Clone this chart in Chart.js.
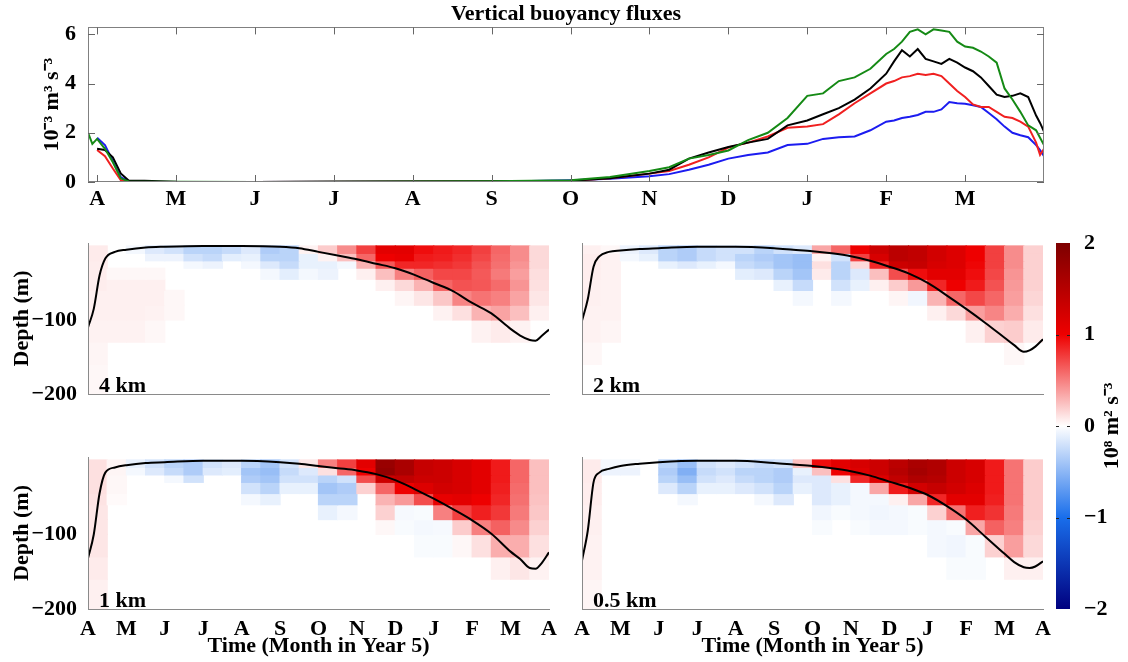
<!DOCTYPE html>
<html><head><meta charset="utf-8">
<script src="https://cdn.jsdelivr.net/npm/chart.js@4.4.1/dist/chart.umd.min.js"></script>
<style>
html,body{margin:0;padding:0;background:#fff;}
#stage{position:relative;width:1128px;height:662px;overflow:hidden;background:#fff}
#stage canvas{position:absolute;left:0;top:0}
</style></head><body>
<div id="stage">
<canvas id="cTop" width="1128" height="662"></canvas>
<canvas id="c4" width="1128" height="662"></canvas>
<canvas id="c2" width="1128" height="662"></canvas>
<canvas id="c1" width="1128" height="662"></canvas>
<canvas id="c05" width="1128" height="662"></canvas>
<canvas id="cBar" width="1128" height="662"></canvas>
</div>
<script>
// ---------- data ----------
const MONTHS_TOP = ['A','M','J','J','A','S','O','N','D','J','F','M'];
const MONTHS_BOTTOM = ['A','M','J','J','A','S','O','N','D','J','F','M','A'];
const Y_TOP_TICKS = [0, 2, 4, 6];
const DEPTH_TICKS = [-200, -100];
const CB_TICKS = [-2, -1, 0, 1, 2];

// time in months since 1 April (top panel)
const TIME = [-0.12,-0.06,0,0.1,0.2,0.3,0.4,0.6,1,2,3,4,5,5.5,6,6.5,7,7.25,7.5,7.75,8,8.25,8.5,8.75,9,9.2,9.4,9.6,9.8,10,10.1,10.2,10.3,10.4,10.5,10.6,10.7,10.8,10.9,11,11.1,11.2,11.3,11.4,11.5,11.6,11.7,11.8,11.9,11.95,12];
const FLUX_BLUE = [null,null,1.8,1.5,0.85,0.2,0.03,0.01,0,0,0.01,0.02,0.03,0.04,0.07,0.13,0.23,0.32,0.5,0.7,0.95,1.1,1.2,1.5,1.55,1.75,1.82,1.85,2.1,2.45,2.5,2.6,2.65,2.72,2.85,2.85,2.95,3.25,3.2,3.18,3.12,3.05,2.8,2.55,2.25,2.0,1.9,1.82,1.5,1.3,1.05];
const FLUX_RED = [null,null,1.3,1.05,0.55,0.08,0.01,0,0,0,0.01,0.02,0.03,0.04,0.05,0.15,0.34,0.45,0.7,1.0,1.4,1.6,1.85,2.2,2.25,2.35,2.75,3.2,3.6,4.0,4.1,4.25,4.3,4.4,4.35,4.4,4.3,4.0,3.7,3.45,3.15,3.05,3.05,2.85,2.65,2.6,2.45,2.25,1.6,1.1,1.35];
const FLUX_BLACK = [null,null,1.35,1.3,1.0,0.35,0.06,0.05,0.01,0,0.01,0.02,0.03,0.04,0.05,0.15,0.34,0.5,0.95,1.2,1.42,1.6,1.75,2.3,2.5,2.75,3.0,3.35,3.8,4.4,4.9,5.35,5.1,5.4,5.0,4.9,4.8,5.0,4.85,4.65,4.5,4.25,3.9,3.55,3.45,3.5,3.6,3.45,2.7,2.4,2.05];
const FLUX_GREEN = [2.05,1.55,1.75,1.35,0.8,0.15,0.02,0.01,0.01,0,0.01,0.02,0.03,0.05,0.07,0.2,0.45,0.6,0.95,1.1,1.28,1.7,2.0,2.6,3.5,3.6,4.1,4.25,4.6,5.2,5.4,5.7,6.1,6.2,6.0,6.2,6.15,6.1,5.7,5.5,5.45,5.3,5.1,4.85,3.8,3.35,2.85,2.3,2.1,1.8,1.5];

// mixed-layer depth (m) curves
const ML_TIME = [0,0.15,0.3,0.45,0.7,1,1.5,2,3,4,5,5.5,6,6.5,7,7.5,8,8.5,9,9.5,10,10.5,11,11.25,11.5,11.65,11.8,12];
const ML_4KM = [110,85,40,17,8,5,2,1,0,0,1,3,8,13,18,24,30,39,50,61,77,91,112,121,127,128,122,113];
const ML_2KM = [101,72,28,14,8,6,4,3,1,1,3,5,7,10,14,20,28,37,50,67,85,104,124,134,143,141,136,126];
const ML_1KM = [132,100,45,17,10,7,4,3,1,1,3,5,8,11,14,19,27,39,52,66,81,99,123,133,145,146,139,124];
const ML_05KM = [135,95,30,17,12,8,5,3,1,1,4,6,8,11,15,21,29,37,47,62,80,103,126,137,144,145,143,136];

// field grid: half-month columns, depth bands
const COL_CENTERS = [0.25,0.75,1.25,1.75,2.25,2.75,3.25,3.75,4.25,4.75,5.25,5.75,6.25,6.75,7.25,7.75,8.25,8.75,9.25,9.75,10.25,10.75,11.25,11.75];
const DEPTH_EDGES = [0,10,20,30,45,60,80,100,130,160,200];

const FIELD_4KM = [
[0.08,0,-0.05,-0.15,-0.2,-0.3,-0.3,-0.25,-0.15,-0.35,-0.3,0.05,0.2,0.45,0.75,1.1,1.1,0.95,0.9,0.85,0.75,0.6,0.45,0.15],
[0.08,0,0,-0.08,-0.08,-0.2,-0.25,-0.12,-0.1,-0.3,-0.3,-0.1,0.05,0.25,0.6,1.0,1.05,0.9,0.88,0.82,0.72,0.58,0.45,0.15],
[0.07,0,0,0,0,-0.05,-0.08,0,-0.05,-0.15,-0.25,-0.1,-0.1,-0.05,0.3,0.65,0.85,0.85,0.82,0.78,0.68,0.56,0.42,0.15],
[0.07,0.03,0.03,0.03,0,0,0,0,0,-0.05,-0.12,-0.05,-0.08,0,0.06,0.25,0.5,0.62,0.72,0.72,0.65,0.52,0.38,0.13],
[0.07,0.06,0.06,0.06,0,0,0,0,0,0,0,0,0,0,0,0.06,0.15,0.3,0.6,0.68,0.66,0.58,0.42,0.12],
[0.06,0.06,0.06,0.06,0.03,0,0,0,0,0,0,0,0,0,0,0,0.04,0.1,0.22,0.48,0.55,0.5,0.36,0.1],
[0.06,0.06,0.06,0.05,0.03,0,0,0,0,0,0,0,0,0,0,0,0,0,0.05,0.12,0.3,0.36,0.25,0.06],
[0.05,0.05,0.05,0.03,0,0,0,0,0,0,0,0,0,0,0,0,0,0,0,0,0.05,0.08,0.05,0],
[0.04,0,0,0,0,0,0,0,0,0,0,0,0,0,0,0,0,0,0,0,0,0,0,0],
[0.03,0,0,0,0,0,0,0,0,0,0,0,0,0,0,0,0,0,0,0,0,0,0,0]];
const FIELD_2KM = [
[0.06,0.03,-0.08,-0.15,-0.3,-0.35,-0.25,-0.2,-0.2,-0.3,-0.2,-0.15,0.35,0.6,1.0,1.3,1.45,1.4,1.25,1.15,1.0,0.75,0.45,0.18],
[0.07,0.05,-0.05,-0.1,-0.3,-0.35,-0.25,-0.2,-0.3,-0.35,-0.4,-0.45,0.05,-0.2,0.75,1.2,1.45,1.4,1.25,1.15,1.0,0.75,0.45,0.18],
[0.07,0.05,0,0,-0.1,-0.15,-0.1,-0.05,-0.25,-0.3,-0.4,-0.45,0.12,-0.3,0.15,0.85,1.3,1.35,1.2,1.15,0.98,0.75,0.45,0.18],
[0.07,0.05,0,0,0,0,0,0,-0.12,-0.15,-0.3,-0.4,0.08,-0.3,-0.15,0.25,0.7,0.95,1.1,1.1,0.95,0.72,0.42,0.18],
[0.06,0.05,0,0,0,0,0,0,0,0,-0.1,-0.25,0,-0.2,-0.1,0.06,0.2,0.4,0.85,1.0,0.9,0.68,0.4,0.18],
[0.06,0.05,0,0,0,0,0,0,0,0,0,-0.05,0,-0.05,0,0,0.04,-0.06,0.3,0.6,0.72,0.6,0.38,0.16],
[0.05,0.05,0,0,0,0,0,0,0,0,0,0,0,0,0,0,0,0,0.06,0.15,0.38,0.48,0.32,0.12],
[0.05,0.04,0,0,0,0,0,0,0,0,0,0,0,0,0,0,0,0,0,0,0.06,0.18,0.2,0.08],
[0.03,0,0,0,0,0,0,0,0,0,0,0,0,0,0,0,0,0,0,0,0,0,0.03,0],
[0,0,0,0,0,0,0,0,0,0,0,0,0,0,0,0,0,0,0,0,0,0,0,0]];
const FIELD_1KM = [
[0.12,0.04,-0.1,-0.2,-0.3,-0.35,-0.2,-0.15,-0.3,-0.4,-0.2,0.1,0.5,0.75,1.1,1.75,1.6,1.35,1.3,1.2,1.1,0.9,0.6,0.25],
[0.12,0.04,-0.05,-0.15,-0.25,-0.35,-0.15,-0.12,-0.4,-0.45,-0.25,-0.15,0.12,0.6,1.0,1.8,1.6,1.35,1.3,1.2,1.1,0.9,0.6,0.25],
[0.12,0.03,0,0,-0.05,-0.2,0,0,-0.35,-0.4,-0.2,-0.2,-0.3,-0.2,0.7,1.3,1.4,1.3,1.3,1.2,1.1,0.9,0.6,0.25],
[0.12,0.03,0,0,0,0,0,0,-0.2,-0.3,-0.1,-0.1,-0.4,-0.35,0.18,0.6,1.0,1.15,1.25,1.2,1.1,0.88,0.58,0.25],
[0.11,0.02,0,0,0,0,0,0,-0.05,-0.1,0,0,-0.3,-0.3,0,0.3,0.4,0.7,1.05,1.1,1.0,0.85,0.56,0.24],
[0.1,0,0,0,0,0,0,0,0,0,0,0,-0.1,-0.05,0,0.18,-0.04,-0.03,0.5,0.75,0.88,0.78,0.52,0.22],
[0.1,0,0,0,0,0,0,0,0,0,0,0,0,0,0,0.03,-0.03,-0.05,-0.04,0.2,0.5,0.62,0.46,0.18],
[0.1,0,0,0,0,0,0,0,0,0,0,0,0,0,0,0,0,-0.03,-0.03,0.03,0.12,0.32,0.32,0.12],
[0.08,0,0,0,0,0,0,0,0,0,0,0,0,0,0,0,0,0,0,0,0,0.06,0.1,0.05],
[0.06,0,0,0,0,0,0,0,0,0,0,0,0,0,0,0,0,0,0,0,0,0,0,0]];
const FIELD_05KM = [
[0.08,-0.05,-0.05,0,-0.3,-0.45,-0.2,-0.15,-0.2,-0.25,-0.2,0.25,0.95,1.1,1.2,1.3,1.45,1.6,1.55,1.3,1.2,0.9,0.55,0.2],
[0.08,-0.08,-0.08,0,-0.35,-0.55,-0.25,-0.2,-0.3,-0.3,-0.35,-0.1,0.25,1.0,1.15,1.3,1.5,1.65,1.55,1.3,1.2,0.9,0.55,0.2],
[0.08,0,0,0,-0.3,-0.45,-0.2,-0.15,-0.25,-0.3,-0.35,-0.15,-0.15,0.12,0.85,1.15,1.4,1.55,1.5,1.3,1.2,0.9,0.55,0.2],
[0.07,0,0,0,-0.15,-0.3,-0.1,-0.1,-0.15,-0.2,-0.3,-0.1,-0.15,-0.1,-0.05,0.35,0.9,1.25,1.35,1.25,1.15,0.9,0.55,0.2],
[0.07,0,0,0,0,-0.05,0,0,0,-0.05,-0.15,0,-0.15,-0.1,-0.05,-0.05,0.06,0.35,0.85,1.1,1.1,0.88,0.55,0.2],
[0.06,0,0,0,0,0,0,0,0,0,0,0,-0.06,-0.03,-0.05,-0.06,-0.05,-0.03,0.18,0.55,0.88,0.8,0.52,0.2],
[0.06,0,0,0,0,0,0,0,0,0,0,0,-0.03,0,-0.03,-0.05,-0.05,-0.03,-0.05,-0.03,0.35,0.62,0.5,0.18],
[0.05,0,0,0,0,0,0,0,0,0,0,0,0,0,0,0,0,0,-0.05,-0.06,-0.03,0.18,0.38,0.15],
[0.05,0,0,0,0,0,0,0,0,0,0,0,0,0,0,0,0,0,0,-0.03,-0.03,0,0.06,0.06],
[0.04,0,0,0,0,0,0,0,0,0,0,0,0,0,0,0,0,0,0,0,0,0,0,0]];

// colormap anchors at CB_TICKS
const CB_RGB = [[0,0,127],[25,110,235],[255,255,255],[238,0,0],[125,0,0]];

// ---------- helpers ----------
const FONT = "'Liberation Serif','Times New Roman',serif";
Chart.defaults.font.family = FONT;
Chart.defaults.font.weight = 'bold';
Chart.defaults.font.size = 22;
Chart.defaults.color = '#000';
Chart.defaults.animation = false;
Chart.defaults.responsive = false;
Chart.defaults.devicePixelRatio = 1;
Chart.defaults.events = [];
Chart.defaults.plugins.legend.display = false;
Chart.defaults.plugins.tooltip.enabled = false;

function rgbAt(v) {
  v = Math.max(-2, Math.min(2, v));
  let i = 0;
  while (i < CB_TICKS.length - 2 && v > CB_TICKS[i + 1]) i++;
  const t = (v - CB_TICKS[i]) / (CB_TICKS[i + 1] - CB_TICKS[i]);
  const a = CB_RGB[i], b = CB_RGB[i + 1];
  return a.map((c, k) => Math.round(c + (b[k] - c) * t));
}
function colorFor(v) {
  if (!v) return 'rgba(255,255,255,0)';
  const c = rgbAt(v);
  return `rgb(${c[0]},${c[1]},${c[2]})`;
}

const frameTicks = {
  id: 'frameTicks',
  afterDatasetsDraw(chart, args, o) {
    if (!o || !o.enabled) return;
    const {ctx, chartArea: a, scales} = chart;
    ctx.save();
    ctx.lineWidth = 1;
    ctx.strokeStyle = '#808080';
    ctx.strokeRect(Math.round(a.left) + 0.5, Math.round(a.top) + 0.5, Math.round(a.right - a.left) - 1, Math.round(a.bottom - a.top) - 1);
    ctx.strokeStyle = '#666';
    ctx.beginPath();
    scales.x.ticks.forEach(t => {
      const x = Math.round(scales.x.getPixelForValue(t.value)) + 0.5;
      ctx.moveTo(x, a.top); ctx.lineTo(x, a.top + 7);
      ctx.moveTo(x, a.bottom); ctx.lineTo(x, a.bottom - 7);
    });
    scales.y.ticks.forEach(t => {
      const y = Math.round(scales.y.getPixelForValue(t.value)) + 0.5;
      ctx.moveTo(a.left, y); ctx.lineTo(a.left + 7, y);
      ctx.moveTo(a.right, y); ctx.lineTo(a.right - 7, y);
    });
    ctx.stroke();
    ctx.restore();
  }
};

const panelLabel = {
  id: 'panelLabel',
  afterDatasetsDraw(chart, args, o) {
    if (!o || !o.text) return;
    const {ctx, chartArea: a} = chart;
    ctx.save();
    ctx.font = `bold 22px ${FONT}`;
    ctx.fillStyle = '#000';
    ctx.textBaseline = 'alphabetic';
    ctx.textAlign = 'left';
    ctx.fillText(o.text, a.left + 11, a.bottom - 2);
    ctx.restore();
  }
};

const cbDecor = {
  id: 'cbDecor',
  afterDraw(chart, args, o) {
    if (!o || !o.title) return;
    const {ctx, chartArea: a, scales} = chart;
    ctx.save();
    ctx.strokeStyle = '#222';
    ctx.lineWidth = 1;
    ctx.beginPath();
    [-1, 0, 1].forEach(v => {
      const y = Math.round(scales.y.getPixelForValue(v)) + 0.5;
      ctx.moveTo(a.right - 3, y); ctx.lineTo(a.right, y);
      ctx.moveTo(a.left, y); ctx.lineTo(a.left + 3, y);
    });
    ctx.stroke();
    ctx.translate(o.x, (a.top + a.bottom) / 2);
    ctx.rotate(-Math.PI / 2);
    ctx.font = `bold 22px ${FONT}`;
    ctx.fillStyle = '#000';
    ctx.textAlign = 'center';
    ctx.textBaseline = 'middle';
    ctx.fillText(o.title, 0, 0);
    ctx.restore();
  }
};

// ---------- top panel ----------
function fluxDs(vals, color, order) {
  return {type: 'line', data: TIME.map((t, i) => ({x: t, y: vals[i]})), borderColor: color,
    borderWidth: 2, pointRadius: 0, tension: 0, order: order, spanGaps: false};
}
new Chart(document.getElementById('cTop'), {
  type: 'line',
  data: {datasets: [
    fluxDs(FLUX_BLUE, '#1c1cf0', 4),
    fluxDs(FLUX_RED, '#f02020', 3),
    fluxDs(FLUX_BLACK, '#000000', 2),
    fluxDs(FLUX_GREEN, '#158a15', 1)
  ]},
  options: {
    layout: {padding: {left: 0, top: 0, right: 1128 - 1044, bottom: 662 - 215}},
    plugins: {
      title: {display: true, fullSize: false, text: 'Vertical buoyancy fluxes', color: '#000',
        font: {size: 22, weight: 'bold', family: FONT}, padding: {top: 1, bottom: 0}},
      frameTicks: {enabled: true}
    },
    scales: {
      x: {type: 'linear', min: -0.115, max: 12, grid: {display: false}, border: {display: false},
        afterBuildTicks: s => { s.ticks = MONTHS_TOP.map((m, i) => ({value: i})); },
        ticks: {autoSkip: false, maxRotation: 0, padding: -4, callback: v => MONTHS_TOP[Math.round(v)]},
        afterFit: s => { s.height = 33; }},
      y: {type: 'linear', min: 0, max: 6.28, grid: {display: false}, border: {display: false},
        afterBuildTicks: s => { s.ticks = Y_TOP_TICKS.map(v => ({value: v})); },
        ticks: {padding: 4, callback: v => String(v)},
        title: {display: true, text: '10⁻³ m³ s⁻³', font: {size: 22, weight: 'bold'}, padding: {top: 39, bottom: 0}},
        afterFit: s => { s.width = 88; }}
    }
  },
  plugins: [frameTicks]
});

// ---------- field panels ----------
function fieldChart(id, field, ml, box, showX, showY, label) {
  const datasets = [{
    type: 'line', data: ML_TIME.map((t, i) => ({x: t, y: -ml[i]})), borderColor: '#000',
    borderWidth: 2, pointRadius: 0, cubicInterpolationMode: 'monotone', order: 0
  }];
  field.forEach((row, r) => {
    datasets.push({
      type: 'bar',
      data: COL_CENTERS.map(c => ({x: c, y: [-DEPTH_EDGES[r + 1], -DEPTH_EDGES[r]]})),
      backgroundColor: row.map(colorFor), borderWidth: 0, grouped: false,
      barPercentage: 1, categoryPercentage: 1, inflateAmount: 0.6, order: 1
    });
  });
  const axisBorder = {display: true, color: '#8a8a8a', width: 1, z: 1};
  new Chart(document.getElementById(id), {
    type: 'bar',
    data: {datasets},
    options: {
      layout: {padding: {left: 0, top: box.top, right: 1128 - box.right, bottom: 0}},
      plugins: {panelLabel: {text: label}},
      scales: {
        x: {type: 'linear', min: 0, max: 12, offset: false, grid: {display: false, offset: false}, border: axisBorder,
          afterBuildTicks: s => { s.ticks = MONTHS_BOTTOM.map((m, i) => ({value: i})); },
          ticks: {display: showX, autoSkip: false, maxRotation: 0, padding: -1, callback: v => MONTHS_BOTTOM[Math.round(v)]},
          title: {display: showX, text: 'Time (Month in Year 5)', font: {size: 22, weight: 'bold'}, padding: {top: 0, bottom: 2}},
          afterFit: s => { s.height = 662 - box.bottom; }},
        y: {type: 'linear', min: -200, max: 4, grid: {display: false}, border: axisBorder,
          afterBuildTicks: s => { s.ticks = DEPTH_TICKS.map(v => ({value: v})); },
          ticks: {display: showY, padding: 3, callback: v => '\u2212' + Math.abs(v)},
          title: {display: showY, text: 'Depth (m)', font: {size: 22, weight: 'bold'}, padding: {top: 9, bottom: 0}},
          afterFit: s => { s.width = box.left; }}
      }
    },
    plugins: [panelLabel]
  });
}
fieldChart('c4', FIELD_4KM, ML_4KM, {left: 88, right: 549, top: 243, bottom: 394}, false, true, '4 km');
fieldChart('c2', FIELD_2KM, ML_2KM, {left: 582, right: 1043, top: 243, bottom: 394}, false, false, '2 km');
fieldChart('c1', FIELD_1KM, ML_1KM, {left: 88, right: 549, top: 457, bottom: 609}, true, true, '1 km');
fieldChart('c05', FIELD_05KM, ML_05KM, {left: 582, right: 1043, top: 457, bottom: 609}, true, false, '0.5 km');

// ---------- colorbar ----------
new Chart(document.getElementById('cBar'), {
  type: 'bar',
  data: {labels: ['cb'], datasets: [{
    data: [[CB_TICKS[0], CB_TICKS[CB_TICKS.length - 1]]],
    backgroundColor: (c) => {
      const chart = c.chart;
      if (!chart.chartArea) return '#fff';
      const y = chart.scales.y;
      const y0 = y.getPixelForValue(CB_TICKS[0]);
      const y1 = y.getPixelForValue(CB_TICKS[CB_TICKS.length - 1]);
      const g = chart.ctx.createLinearGradient(0, y0, 0, y1);
      CB_TICKS.forEach((v, i) => {
        const rgb = CB_RGB[i];
        g.addColorStop(i / (CB_TICKS.length - 1), `rgb(${rgb[0]},${rgb[1]},${rgb[2]})`);
      });
      return g;
    },
    borderWidth: 0, barPercentage: 1, categoryPercentage: 1
  }]},
  options: {
    layout: {padding: {left: 1056, top: 243, right: 0, bottom: 662 - 609}},
    plugins: {cbDecor: {title: '10⁸ m² s⁻³', x: 1112}},
    scales: {
      x: {type: 'category', display: false},
      y: {type: 'linear', position: 'right', min: -2, max: 2, grid: {display: false}, border: {display: false},
        afterBuildTicks: s => { s.ticks = CB_TICKS.map(v => ({value: v})); },
        ticks: {padding: 6, callback: v => (v < 0 ? '\u2212' + Math.abs(v) : String(v))},
        afterFit: s => { s.width = 1128 - 1070; }}
    }
  },
  plugins: [cbDecor]
});
</script>
</body></html>
